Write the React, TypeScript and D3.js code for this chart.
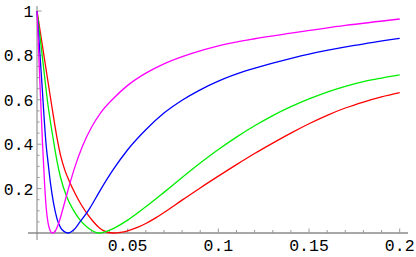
import React from "react";
import * as d3 from "d3";

type Pt = [number, number];

const magenta: Pt[] = [
  [0, 1], [0.0015, 0.7], [0.003, 0.41], [0.0042, 0.22], [0.005, 0.12], [0.006, 0.05],
  [0.0072, 0.012], [0.0084, 0], [0.01, 0.008], [0.012, 0.045], [0.0145, 0.115],
  [0.0175, 0.205], [0.021, 0.3], [0.025, 0.39], [0.03, 0.475], [0.035, 0.54],
  [0.042, 0.605], [0.05, 0.665], [0.06, 0.72], [0.07, 0.762], [0.085, 0.808],
  [0.1, 0.843], [0.12, 0.875], [0.14, 0.9], [0.17, 0.935], [0.2, 0.964],
];

const blue: Pt[] = [
  [0, 1], [0.0025, 0.7], [0.005, 0.4], [0.0062, 0.31], [0.0075, 0.22], [0.009, 0.14],
  [0.011, 0.065], [0.013, 0.024], [0.015, 0.006], [0.0173, 0], [0.02, 0.012],
  [0.0237, 0.05], [0.029, 0.11], [0.0347, 0.19], [0.042, 0.285], [0.05, 0.375],
  [0.06, 0.465], [0.07, 0.54], [0.08, 0.598], [0.09, 0.645], [0.1, 0.684],
  [0.115, 0.73], [0.13, 0.765], [0.15, 0.806], [0.175, 0.845], [0.2, 0.877],
];

const green: Pt[] = [
  [0, 1], [0.003, 0.79], [0.006, 0.58], [0.009, 0.42], [0.011, 0.325], [0.013, 0.25],
  [0.0164, 0.163], [0.02, 0.104], [0.0237, 0.059], [0.0274, 0.028], [0.031, 0.008],
  [0.0338, 0], [0.037, 0.004], [0.042, 0.02], [0.05, 0.058], [0.06, 0.118],
  [0.07, 0.183], [0.08, 0.25], [0.09, 0.315], [0.1, 0.376], [0.11, 0.432],
  [0.12, 0.483], [0.13, 0.529], [0.14, 0.569], [0.15, 0.604], [0.16, 0.635],
  [0.17, 0.661], [0.18, 0.682], [0.19, 0.698], [0.2, 0.712],
];

const red: Pt[] = [
  [0, 1], [0.004, 0.79], [0.008, 0.58], [0.011, 0.43], [0.013, 0.35], [0.0155, 0.28],
  [0.018, 0.23], [0.021, 0.178], [0.0245, 0.126], [0.028, 0.083], [0.031, 0.052],
  [0.034, 0.026], [0.0366, 0.011], [0.042, 0], [0.046, 0.003], [0.05, 0.01],
  [0.055, 0.024], [0.06, 0.043], [0.065, 0.066], [0.07, 0.092], [0.08, 0.148],
  [0.09, 0.203], [0.1, 0.256], [0.11, 0.308], [0.12, 0.358], [0.13, 0.405],
  [0.14, 0.45], [0.15, 0.492], [0.16, 0.53], [0.17, 0.563], [0.18, 0.59],
  [0.19, 0.613], [0.2, 0.632],
];

const seriesList = [
  { name: "red", color: "#ff0000", data: red },
  { name: "green", color: "#00ee00", data: green },
  { name: "blue", color: "#0000ff", data: blue },
  { name: "magenta", color: "#ff00ff", data: magenta },
];

const xMajor = [0.05, 0.1, 0.15, 0.2];
const xMajorLabels = ["0.05", "0.1", "0.15", "0.2"];
const yMajor = [0.2, 0.4, 0.6, 0.8, 1];
const yMajorLabels = ["0.2", "0.4", "0.6", "0.8", "1"];

export default function App() {
  const W = 416;
  const H = 257;
  const x = d3.scaleLinear().domain([0, 0.2]).range([37, 399.7]);
  const y = d3.scaleLinear().domain([0, 1]).range([233, 11]);
  const line = d3
    .line<Pt>()
    .x((d) => x(d[0]))
    .y((d) => y(d[1]))
    .curve(d3.curveMonotoneX);

  const xMinor = d3.range(1, 21).map((i) => i * 0.01).filter((v) => Math.abs(v * 20 - Math.round(v * 20)) > 1e-6);
  const yMinor = d3.range(1, 21).map((i) => i * 0.05).filter((v) => Math.abs(v * 5 - Math.round(v * 5)) > 1e-6);

  const font = "'Liberation Mono', 'DejaVu Sans Mono', monospace";

  return (
    <svg
      width={W}
      height={H}
      style={{ position: "absolute", left: 0, top: 0, background: "#fff" }}
    >
      <line x1={28} x2={408} y1={y(0)} y2={y(0)} stroke="#a8a8a8" strokeWidth={2} />
      <line x1={x(0)} x2={x(0)} y1={6} y2={240} stroke="#808080" strokeWidth={1} />
      {xMinor.map((v) => (
        <line key={"xm" + v} x1={x(v)} x2={x(v)} y1={y(0)} y2={y(0) - 3} stroke="#999" strokeWidth={1} />
      ))}
      {xMajor.map((v) => (
        <line key={"xM" + v} x1={x(v)} x2={x(v)} y1={y(0)} y2={y(0) - 4.5} stroke="#999" strokeWidth={1} />
      ))}
      {yMinor.map((v) => (
        <line key={"ym" + v} x1={x(0)} x2={x(0) + 2.5} y1={y(v)} y2={y(v)} stroke="#999" strokeWidth={1} />
      ))}
      {yMajor.map((v) => (
        <line key={"yM" + v} x1={x(0)} x2={x(0) + 4.5} y1={y(v)} y2={y(v)} stroke="#999" strokeWidth={1} />
      ))}
      {xMajor.map((v, i) => (
        <text
          key={"xl" + v}
          x={x(v)}
          y={251}
          textAnchor="middle"
          fontFamily={font}
          fontSize={16.5}
          fill="#000"
        >
          {xMajorLabels[i]}
        </text>
      ))}
      {yMajor.map((v, i) => (
        <text
          key={"yl" + v}
          x={33.5}
          y={y(v)}
          dy="0.36em"
          textAnchor="end"
          fontFamily={font}
          fontSize={16.5}
          fill="#000"
        >
          {yMajorLabels[i]}
        </text>
      ))}
      {seriesList.map((s) => (
        <path key={s.name} d={line(s.data) || ""} fill="none" stroke={s.color} strokeWidth={1.3} />
      ))}
    </svg>
  );
}
